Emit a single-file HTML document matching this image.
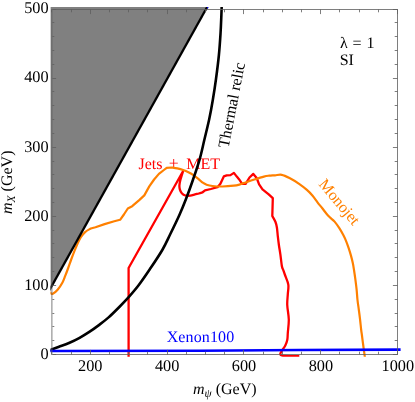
<!DOCTYPE html>
<html><head><meta charset="utf-8"><title>plot</title>
<style>
html,body{margin:0;padding:0;background:#fff;}
body{width:415px;height:402px;overflow:hidden;font-family:"Liberation Serif",serif;}
svg{display:block;will-change:transform;}
text{font-family:"Liberation Serif",serif;font-size:16px;fill:#000;text-rendering:geometricPrecision;}
.it{font-style:italic;}
.tk text{font-size:16.3px;}
</style></head><body>
<svg width="415" height="402" viewBox="0 0 415 402">
<defs><clipPath id="c"><rect x="50.4" y="7.0" width="350.20000000000005" height="349.8"/></clipPath></defs>
<rect width="415" height="402" fill="#fff"/>
<text x="138.5" y="168.5" style="fill:#ff0000">Jets<tspan dx="1.9" dy="0.7" font-size="17.6"> +</tspan><tspan dx="3.6" dy="-0.7"> MET</tspan></text>
<g clip-path="url(#c)">
<!-- excluded region -->
<polygon points="50.4,7.0 206.67,7.0 50.4,287.47" fill="#808080"/>
<!-- curves -->
<path d="M128.60 358.00 L128.60 268.00 L183.00 171.30 C182.55 172.78 180.90 177.83 180.30 180.20 C179.70 182.57 179.47 183.93 179.40 185.50 C179.33 187.07 179.50 188.32 179.90 189.60 C180.30 190.88 180.88 192.22 181.80 193.20 C182.72 194.18 183.98 195.10 185.40 195.50 C186.82 195.90 188.70 195.78 190.30 195.60 C191.90 195.42 193.57 194.75 195.00 194.40 C196.43 194.05 197.68 193.82 198.90 193.50 C200.12 193.18 201.73 192.67 202.30 192.50 L202.30 192.50 L205.00 190.40 L210.80 189.00 L217.50 187.20 L220.40 183.80 L223.80 176.40 L226.70 175.40 L230.50 175.10 L233.90 172.90 L236.80 176.60 L239.00 179.20 L242.20 183.80 L245.60 183.90 L249.50 177.50 L253.30 173.90 L256.70 178.00 L259.10 184.30 L262.50 189.30 L268.70 194.30 L272.80 198.20 L272.30 216.00 C272.82 216.95 274.63 219.78 275.40 221.70 C276.17 223.62 276.50 225.08 276.90 227.50 C277.30 229.92 277.47 233.28 277.80 236.20 C278.13 239.12 278.47 241.93 278.90 245.00 C279.33 248.07 279.90 251.07 280.40 254.60 C280.90 258.13 281.42 263.62 281.90 266.20 C282.38 268.78 282.78 268.63 283.30 270.10 C283.82 271.57 284.17 272.58 285.00 275.00 C285.83 277.42 287.83 281.38 288.30 284.60 C288.77 287.82 287.98 290.90 287.80 294.30 C287.62 297.70 287.08 300.80 287.25 305.00 C287.42 309.20 288.71 314.83 288.80 319.50 C288.89 324.17 288.05 329.63 287.80 333.00 C287.55 336.37 287.72 337.62 287.30 339.70 C286.88 341.78 286.10 343.82 285.30 345.50 C284.50 347.18 283.30 348.52 282.50 349.80 C281.70 351.08 280.80 352.33 280.50 353.20 C280.20 354.07 280.22 354.55 280.70 355.00 C281.18 355.45 281.50 355.72 283.40 355.90 C285.30 356.08 289.45 356.05 292.10 356.10 C294.75 356.15 298.10 356.18 299.30 356.20" fill="none" stroke="#ff0000" stroke-width="2.3" stroke-linejoin="round" stroke-linecap="butt"/>
<path d="M47.50 290.60 C48.07 291.04 50.02 292.72 50.90 293.25 C51.78 293.78 51.68 294.39 52.80 293.80 C53.92 293.21 55.98 291.58 57.60 289.70 C59.22 287.82 61.22 284.83 62.50 282.50 C63.78 280.17 64.35 278.12 65.30 275.70 C66.25 273.28 67.22 270.70 68.20 268.00 C69.18 265.30 70.15 262.35 71.20 259.50 C72.25 256.65 73.48 253.45 74.50 250.90 C75.52 248.35 76.27 246.45 77.30 244.20 C78.33 241.95 79.40 239.42 80.70 237.40 C82.00 235.38 83.42 233.58 85.10 232.10 C86.78 230.62 89.85 229.10 90.80 228.50 L90.80 228.50 L95.50 227.20 L104.60 224.10 L114.30 221.20 L120.10 219.80 L123.90 214.50 L127.80 208.50 L132.20 206.20 L139.50 199.90 L144.30 195.40 L149.30 186.40 L154.10 179.50 L158.90 173.90 L163.90 170.00 L166.70 167.80 L166.70 167.80 L171.60 167.50 C172.55 167.65 175.38 167.98 177.30 168.40 C179.22 168.82 181.17 169.32 183.10 170.00 C185.03 170.68 187.13 171.62 188.90 172.50 C190.67 173.38 192.03 174.17 193.70 175.30 C195.37 176.43 197.38 178.07 198.90 179.30 C200.42 180.53 201.52 181.80 202.80 182.70 C204.08 183.60 204.98 184.15 206.60 184.70 C208.22 185.25 209.85 185.70 212.50 186.00 C215.15 186.30 218.96 186.55 222.50 186.50 C226.04 186.45 230.83 186.05 233.75 185.70 C236.67 185.35 238.19 184.88 240.00 184.40 C241.81 183.92 242.22 183.62 244.60 182.80 C246.98 181.98 251.08 180.53 254.30 179.50 C257.52 178.47 261.45 177.23 263.90 176.60 C266.35 175.97 267.15 175.92 269.00 175.70 C270.85 175.48 272.88 175.45 275.00 175.30 C277.12 175.15 279.28 174.35 281.70 174.80 C284.12 175.25 286.60 176.50 289.50 178.00 C292.40 179.50 296.20 181.82 299.10 183.80 C302.00 185.78 304.68 187.95 306.90 189.90 C309.12 191.85 310.63 193.43 312.40 195.50 C314.17 197.57 315.85 200.17 317.50 202.30 C319.15 204.43 320.80 206.38 322.30 208.30 C323.80 210.22 325.25 212.30 326.50 213.80 C327.75 215.30 328.45 216.00 329.80 217.30 C331.15 218.60 332.98 219.75 334.60 221.60 C336.22 223.45 338.05 226.15 339.50 228.40 C340.95 230.65 342.18 232.95 343.30 235.10 C344.42 237.25 345.33 239.20 346.20 241.30 C347.07 243.40 347.72 245.35 348.50 247.70 C349.28 250.05 350.18 252.83 350.90 255.40 C351.62 257.97 352.28 260.67 352.80 263.10 C353.32 265.53 353.57 267.25 354.00 270.00 C354.43 272.75 354.97 276.38 355.40 279.60 C355.83 282.82 356.25 285.90 356.60 289.30 C356.95 292.70 357.13 296.62 357.50 300.00 C357.87 303.38 358.38 306.38 358.80 309.60 C359.23 312.82 359.65 315.90 360.05 319.30 C360.45 322.70 360.89 327.38 361.20 330.00 C361.51 332.62 361.57 332.50 361.90 335.00 C362.23 337.50 362.72 341.38 363.20 345.00 C363.68 348.62 364.48 354.37 364.80 356.70 C365.12 359.03 365.05 358.62 365.10 359.00" fill="none" stroke="#ff8000" stroke-width="2.2" stroke-linecap="butt" stroke-linejoin="round"/>
<path d="M46.23 295.85 L211.54 -0.85" fill="none" stroke="#000" stroke-width="2.3"/>
<circle cx="207.62" cy="7.8" r="0.75" fill="#0000ff"/>
<path d="M46.50 351.30 C47.23 351.05 48.82 350.55 50.90 349.80 C52.98 349.05 55.98 347.93 59.00 346.80 C62.02 345.67 65.57 344.50 69.00 343.00 C72.43 341.50 76.22 339.65 79.60 337.80 C82.98 335.95 86.08 334.02 89.30 331.90 C92.52 329.78 95.68 327.52 98.90 325.10 C102.12 322.68 105.20 320.42 108.60 317.40 C112.00 314.38 115.92 310.42 119.30 307.00 C122.68 303.58 125.68 300.52 128.90 296.90 C132.12 293.28 135.12 289.90 138.60 285.30 C142.08 280.70 145.85 275.18 149.80 269.30 C153.75 263.42 158.90 255.83 162.30 250.00 C165.70 244.17 167.35 240.13 170.20 234.30 C173.05 228.47 176.78 220.83 179.40 215.00 C182.02 209.17 183.65 205.13 185.90 199.30 C188.15 193.47 190.61 186.67 192.90 180.00 C195.19 173.33 197.75 165.97 199.65 159.30 C201.55 152.63 202.71 146.67 204.30 140.00 C205.89 133.33 207.78 125.97 209.20 119.30 C210.62 112.63 211.67 106.72 212.80 100.00 C213.93 93.28 214.98 86.50 216.00 79.00 C217.02 71.50 218.15 62.52 218.90 55.00 C219.65 47.48 220.08 40.63 220.50 33.90 C220.92 27.17 221.18 19.75 221.40 14.60 C221.62 9.45 221.73 4.93 221.80 3.00" fill="none" stroke="#000" stroke-width="2.6"/>
<path d="M47.00 351.00 L200.00 350.70 L300.00 350.05 L404.00 349.60" fill="none" stroke="#0000ff" stroke-width="2.6" stroke-linejoin="round"/>
</g>
<!-- frame + ticks -->
<g stroke="#5e5e5e" stroke-opacity="0.8" stroke-width="1" fill="none">
<path d="M51.9 9.0 V355.0 M397.5 9.0 V355.0 M52.4 9.5 H397.0 M52.4 354.5 H397.0"/>
<line x1="51.50" y1="354.50" x2="51.50" y2="351.70"/><line x1="51.50" y1="9.50" x2="51.50" y2="12.30"/><line x1="71.50" y1="354.50" x2="71.50" y2="351.70"/><line x1="71.50" y1="9.50" x2="71.50" y2="12.30"/><line x1="90.50" y1="354.50" x2="90.50" y2="349.90"/><line x1="90.50" y1="9.50" x2="90.50" y2="14.10"/><line x1="109.50" y1="354.50" x2="109.50" y2="351.70"/><line x1="109.50" y1="9.50" x2="109.50" y2="12.30"/><line x1="128.50" y1="354.50" x2="128.50" y2="351.70"/><line x1="128.50" y1="9.50" x2="128.50" y2="12.30"/><line x1="147.50" y1="354.50" x2="147.50" y2="351.70"/><line x1="147.50" y1="9.50" x2="147.50" y2="12.30"/><line x1="167.50" y1="354.50" x2="167.50" y2="349.90"/><line x1="167.50" y1="9.50" x2="167.50" y2="14.10"/><line x1="186.50" y1="354.50" x2="186.50" y2="351.70"/><line x1="186.50" y1="9.50" x2="186.50" y2="12.30"/><line x1="205.50" y1="354.50" x2="205.50" y2="351.70"/><line x1="205.50" y1="9.50" x2="205.50" y2="12.30"/><line x1="224.50" y1="354.50" x2="224.50" y2="351.70"/><line x1="224.50" y1="9.50" x2="224.50" y2="12.30"/><line x1="243.50" y1="354.50" x2="243.50" y2="349.90"/><line x1="243.50" y1="9.50" x2="243.50" y2="14.10"/><line x1="263.50" y1="354.50" x2="263.50" y2="351.70"/><line x1="263.50" y1="9.50" x2="263.50" y2="12.30"/><line x1="282.50" y1="354.50" x2="282.50" y2="351.70"/><line x1="282.50" y1="9.50" x2="282.50" y2="12.30"/><line x1="301.50" y1="354.50" x2="301.50" y2="351.70"/><line x1="301.50" y1="9.50" x2="301.50" y2="12.30"/><line x1="320.50" y1="354.50" x2="320.50" y2="349.90"/><line x1="320.50" y1="9.50" x2="320.50" y2="14.10"/><line x1="339.50" y1="354.50" x2="339.50" y2="351.70"/><line x1="339.50" y1="9.50" x2="339.50" y2="12.30"/><line x1="359.50" y1="354.50" x2="359.50" y2="351.70"/><line x1="359.50" y1="9.50" x2="359.50" y2="12.30"/><line x1="378.50" y1="354.50" x2="378.50" y2="351.70"/><line x1="378.50" y1="9.50" x2="378.50" y2="12.30"/><line x1="397.50" y1="354.50" x2="397.50" y2="349.90"/><line x1="397.50" y1="9.50" x2="397.50" y2="14.10"/><line x1="52.40" y1="354.50" x2="56.10" y2="354.50"/><line x1="397.50" y1="354.50" x2="392.90" y2="354.50"/><line x1="52.40" y1="340.50" x2="54.30" y2="340.50"/><line x1="397.50" y1="340.50" x2="394.70" y2="340.50"/><line x1="52.40" y1="326.50" x2="54.30" y2="326.50"/><line x1="397.50" y1="326.50" x2="394.70" y2="326.50"/><line x1="52.40" y1="313.50" x2="54.30" y2="313.50"/><line x1="397.50" y1="313.50" x2="394.70" y2="313.50"/><line x1="52.40" y1="299.50" x2="54.30" y2="299.50"/><line x1="397.50" y1="299.50" x2="394.70" y2="299.50"/><line x1="52.40" y1="285.50" x2="56.10" y2="285.50"/><line x1="397.50" y1="285.50" x2="392.90" y2="285.50"/><line x1="52.40" y1="271.50" x2="54.30" y2="271.50"/><line x1="397.50" y1="271.50" x2="394.70" y2="271.50"/><line x1="52.40" y1="257.50" x2="54.30" y2="257.50"/><line x1="397.50" y1="257.50" x2="394.70" y2="257.50"/><line x1="52.40" y1="243.50" x2="54.30" y2="243.50"/><line x1="397.50" y1="243.50" x2="394.70" y2="243.50"/><line x1="52.40" y1="230.50" x2="54.30" y2="230.50"/><line x1="397.50" y1="230.50" x2="394.70" y2="230.50"/><line x1="52.40" y1="216.50" x2="56.10" y2="216.50"/><line x1="397.50" y1="216.50" x2="392.90" y2="216.50"/><line x1="52.40" y1="202.50" x2="54.30" y2="202.50"/><line x1="397.50" y1="202.50" x2="394.70" y2="202.50"/><line x1="52.40" y1="188.50" x2="54.30" y2="188.50"/><line x1="397.50" y1="188.50" x2="394.70" y2="188.50"/><line x1="52.40" y1="174.50" x2="54.30" y2="174.50"/><line x1="397.50" y1="174.50" x2="394.70" y2="174.50"/><line x1="52.40" y1="161.50" x2="54.30" y2="161.50"/><line x1="397.50" y1="161.50" x2="394.70" y2="161.50"/><line x1="52.40" y1="147.50" x2="56.10" y2="147.50"/><line x1="397.50" y1="147.50" x2="392.90" y2="147.50"/><line x1="52.40" y1="133.50" x2="54.30" y2="133.50"/><line x1="397.50" y1="133.50" x2="394.70" y2="133.50"/><line x1="52.40" y1="119.50" x2="54.30" y2="119.50"/><line x1="397.50" y1="119.50" x2="394.70" y2="119.50"/><line x1="52.40" y1="105.50" x2="54.30" y2="105.50"/><line x1="397.50" y1="105.50" x2="394.70" y2="105.50"/><line x1="52.40" y1="91.50" x2="54.30" y2="91.50"/><line x1="397.50" y1="91.50" x2="394.70" y2="91.50"/><line x1="52.40" y1="78.50" x2="56.10" y2="78.50"/><line x1="397.50" y1="78.50" x2="392.90" y2="78.50"/><line x1="52.40" y1="64.50" x2="54.30" y2="64.50"/><line x1="397.50" y1="64.50" x2="394.70" y2="64.50"/><line x1="52.40" y1="50.50" x2="54.30" y2="50.50"/><line x1="397.50" y1="50.50" x2="394.70" y2="50.50"/><line x1="52.40" y1="36.50" x2="54.30" y2="36.50"/><line x1="397.50" y1="36.50" x2="394.70" y2="36.50"/><line x1="52.40" y1="22.50" x2="54.30" y2="22.50"/><line x1="397.50" y1="22.50" x2="394.70" y2="22.50"/><line x1="52.40" y1="9.50" x2="56.10" y2="9.50"/><line x1="397.50" y1="9.50" x2="392.90" y2="9.50"/>
</g>
<!-- labels -->
<g class="tk"><text x="90.24" y="370.5" text-anchor="middle">200</text><text x="167.13" y="370.5" text-anchor="middle">400</text><text x="244.02" y="370.5" text-anchor="middle">600</text><text x="320.91" y="370.5" text-anchor="middle">800</text><text x="397.80" y="370.5" text-anchor="middle">1000</text><text x="48.6" y="359.10" text-anchor="end">0</text><text x="48.6" y="289.92" text-anchor="end">100</text><text x="48.6" y="220.74" text-anchor="end">200</text><text x="48.6" y="151.56" text-anchor="end">300</text><text x="48.6" y="82.38" text-anchor="end">400</text><text x="48.6" y="13.20" text-anchor="end">500</text></g>
<text x="340" y="47.8">λ<tspan dx="0.7"> =</tspan><tspan dx="1.0"> 1</tspan></text>
<text x="339.7" y="64.8">SI</text>
<text x="166.7" y="341.7" style="fill:#0000ff;letter-spacing:0.12px">Xenon100</text>
<text transform="translate(228.5,148.5) rotate(-79)" x="0" y="0">Thermal relic</text>
<text transform="translate(318,184.5) rotate(50)" x="0" y="0" style="fill:#ff8000">Monojet</text>
<text x="193" y="393.6"><tspan class="it">m</tspan><tspan class="it" font-size="11.5" dy="3.6">ψ</tspan><tspan dy="-3.6"> (GeV)</tspan></text>
<text transform="translate(11.7,214) rotate(-90)" x="0" y="0"><tspan class="it">m</tspan><tspan class="it" font-size="11.5" dy="3.6">X</tspan><tspan dy="-3.6"> (GeV)</tspan></text>
</svg>
</body></html>
